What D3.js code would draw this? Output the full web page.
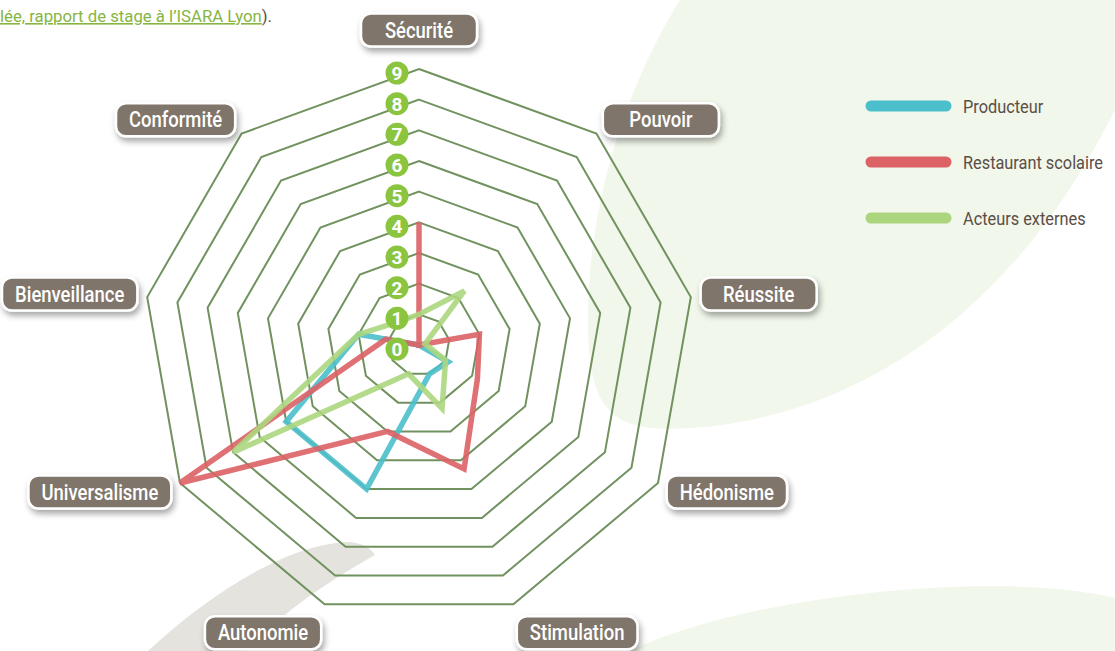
<!DOCTYPE html>
<html>
<head>
<meta charset="utf-8">
<script src="https://cdn.jsdelivr.net/npm/d3@7"></script>
<style>
  html, body { margin: 0; padding: 0; background: #fff; }
  svg { display: block; }
  text { font-family: "Roboto", "Noto Sans", sans-serif; }
</style>
</head>
<body>
<svg width="1115" height="651"></svg>
<script>
// Axes of the radar, clockwise from the top
const axes = ["Sécurité", "Pouvoir", "Réussite", "Hédonisme", "Stimulation", "Autonomie", "Universalisme", "Bienveillance", "Conformité"];

// Series values, same order as the axes
const producteur = [0, 0, 0, 1.1, 1, 5, 5, 2, 0];
const restaurant = [4, 0, 2, 2.2, 4.3, 3, 9, 1.1, 0];
const acteurs = [1, 2.3, 0.2, 1, 2.2, 1, 7, 2, 1];

const seriesNames = ["Producteur", "Restaurant scolaire", "Acteurs externes"];
const seriesColors = ["#4bbfcb", "#dc6266", "#acd67e"];

// Tick labels of the radial axis
const ticks = [0, 1, 2, 3, 4, 5, 6, 7, 8, 9];

const width = 1115;
const height = 651;
const cx = 419;
const cy = 345;
const radius = 276;

const svg = d3.select("svg").attr("viewBox", [0, 0, width, height]);

// Shadow for the axis badges
const defs = svg.append("defs");
const shadow = defs.append("filter").attr("id", "shadow")
    .attr("x", "-20%").attr("y", "-30%").attr("width", "140%").attr("height", "180%");
shadow.append("feDropShadow")
    .attr("dx", 2).attr("dy", 4).attr("stdDeviation", 3)
    .attr("flood-color", "#000").attr("flood-opacity", 0.35);

// Background decoration
svg.append("path")
    .attr("d", "M680,0 C630,80 586,200 588,330 C590,420 620,432 690,428 C850,418 1010,320 1115,110 L1115,0 Z")
    .attr("fill", "#f1f7ea");
svg.append("path")
    .attr("d", "M630,651 C720,608 880,585 1000,586 C1060,587 1100,594 1115,598 L1115,651 Z")
    .attr("fill", "#f1f7ea");
svg.append("path")
    .attr("d", "M148,651 C205,598 282,546 345,542 C360,541 371,548 375,555 C318,587 274,620 246,651 Z")
    .attr("fill", "#e4e3de");

// Header text fragment
const header = svg.append("text").attr("x", 0).attr("y", 22)
    .attr("font-size", 16).attr("textLength", 272).attr("lengthAdjust", "spacingAndGlyphs");
header.append("tspan").text("lée, rapport de stage à l’ISARA Lyon")
    .attr("fill", "#86b543").attr("text-decoration", "underline");
header.append("tspan").text(").").attr("fill", "#5b4e46");

// Scales
const r = d3.scaleLinear().domain([0, 9]).range([0, radius]);
const angle = d3.scaleLinear().domain([0, axes.length]).range([0, 2 * Math.PI]);

const point = (v, i) => [cx + Math.sin(angle(i)) * r(v), cy - Math.cos(angle(i)) * r(v)];

// Grid polygons
const line = d3.line().curve(d3.curveLinearClosed);
svg.append("g")
    .selectAll("path")
    .data(ticks.filter(t => t > 0))
    .join("path")
    .attr("d", t => line(axes.map((a, i) => point(t, i))))
    .attr("fill", "none")
    .attr("stroke", "#71925f")
    .attr("stroke-width", 2);

// Series lines
const series = [producteur, restaurant, acteurs];
svg.append("g")
    .selectAll("path")
    .data(series)
    .join("path")
    .attr("d", d => line(d.map((v, i) => point(v, i))))
    .attr("fill", "none")
    .attr("stroke", (d, i) => seriesColors[i])
    .attr("stroke-width", 5.5)
    .attr("opacity", 0.9);

// Tick badges
const tickG = svg.append("g")
    .selectAll("g")
    .data(ticks)
    .join("g")
    .attr("transform", t => `translate(${cx - 22},${cy - r(t) + 4})`);
tickG.append("circle").attr("r", 11.5).attr("fill", "#8bc53f");
tickG.append("text")
    .text(t => t)
    .attr("text-anchor", "middle")
    .attr("dy", "0.36em")
    .attr("fill", "#fff")
    .attr("font-size", 19)
    .attr("font-weight", "bold");

// Axis labels (condensed with a horizontal scale)
const squeeze = 0.84;
const labelG = svg.append("g")
    .selectAll("g")
    .data(axes)
    .join("g");

labelG.append("text")
    .text(d => d)
    .attr("fill", "#fff")
    .attr("font-size", 22)
    .attr("font-weight", 500)
    .attr("text-anchor", "middle")
    .attr("dy", "0.35em")
    .attr("transform", `scale(${squeeze},1)`);

labelG.each(function(d, i) {
    const g = d3.select(this);
    const tw = g.select("text").node().getComputedTextLength() * squeeze;
    const w = Math.max(116, tw + 26);
    const h = 33;
    const s = Math.sin(angle(i));
    const c = Math.cos(angle(i));
    const side = Math.abs(s) < 0.1 ? 0 : Math.sign(s);
    const x = cx + s * (radius + 10) + side * w / 2;
    let dy = -c * 8;
    if (c > 0.9) dy = -29;
    if (c < -0.9) dy = 19;
    const y = cy - c * (radius + 10) + dy;
    g.attr("transform", `translate(${x},${y})`);
    g.insert("rect", "text")
        .attr("x", -w / 2).attr("y", -h / 2)
        .attr("width", w).attr("height", h)
        .attr("rx", 10)
        .attr("fill", "#7f756b")
        .attr("stroke", "#fff")
        .attr("stroke-width", 2.5)
        .attr("filter", "url(#shadow)");
});

// Legend
const legend = svg.append("g")
    .selectAll("g")
    .data(seriesNames)
    .join("g")
    .attr("transform", (d, i) => `translate(866,${106 + i * 56})`);
legend.append("line")
    .attr("x1", 5).attr("x2", 80)
    .attr("stroke", (d, i) => seriesColors[i])
    .attr("stroke-width", 11)
    .attr("stroke-linecap", "round");
legend.append("text")
    .text(d => d)
    .attr("transform", "translate(97,0) scale(0.86,1)")
    .attr("dy", "0.35em")
    .attr("fill", "#5b4e46")
    .attr("font-size", 19);
</script>
</body>
</html>
